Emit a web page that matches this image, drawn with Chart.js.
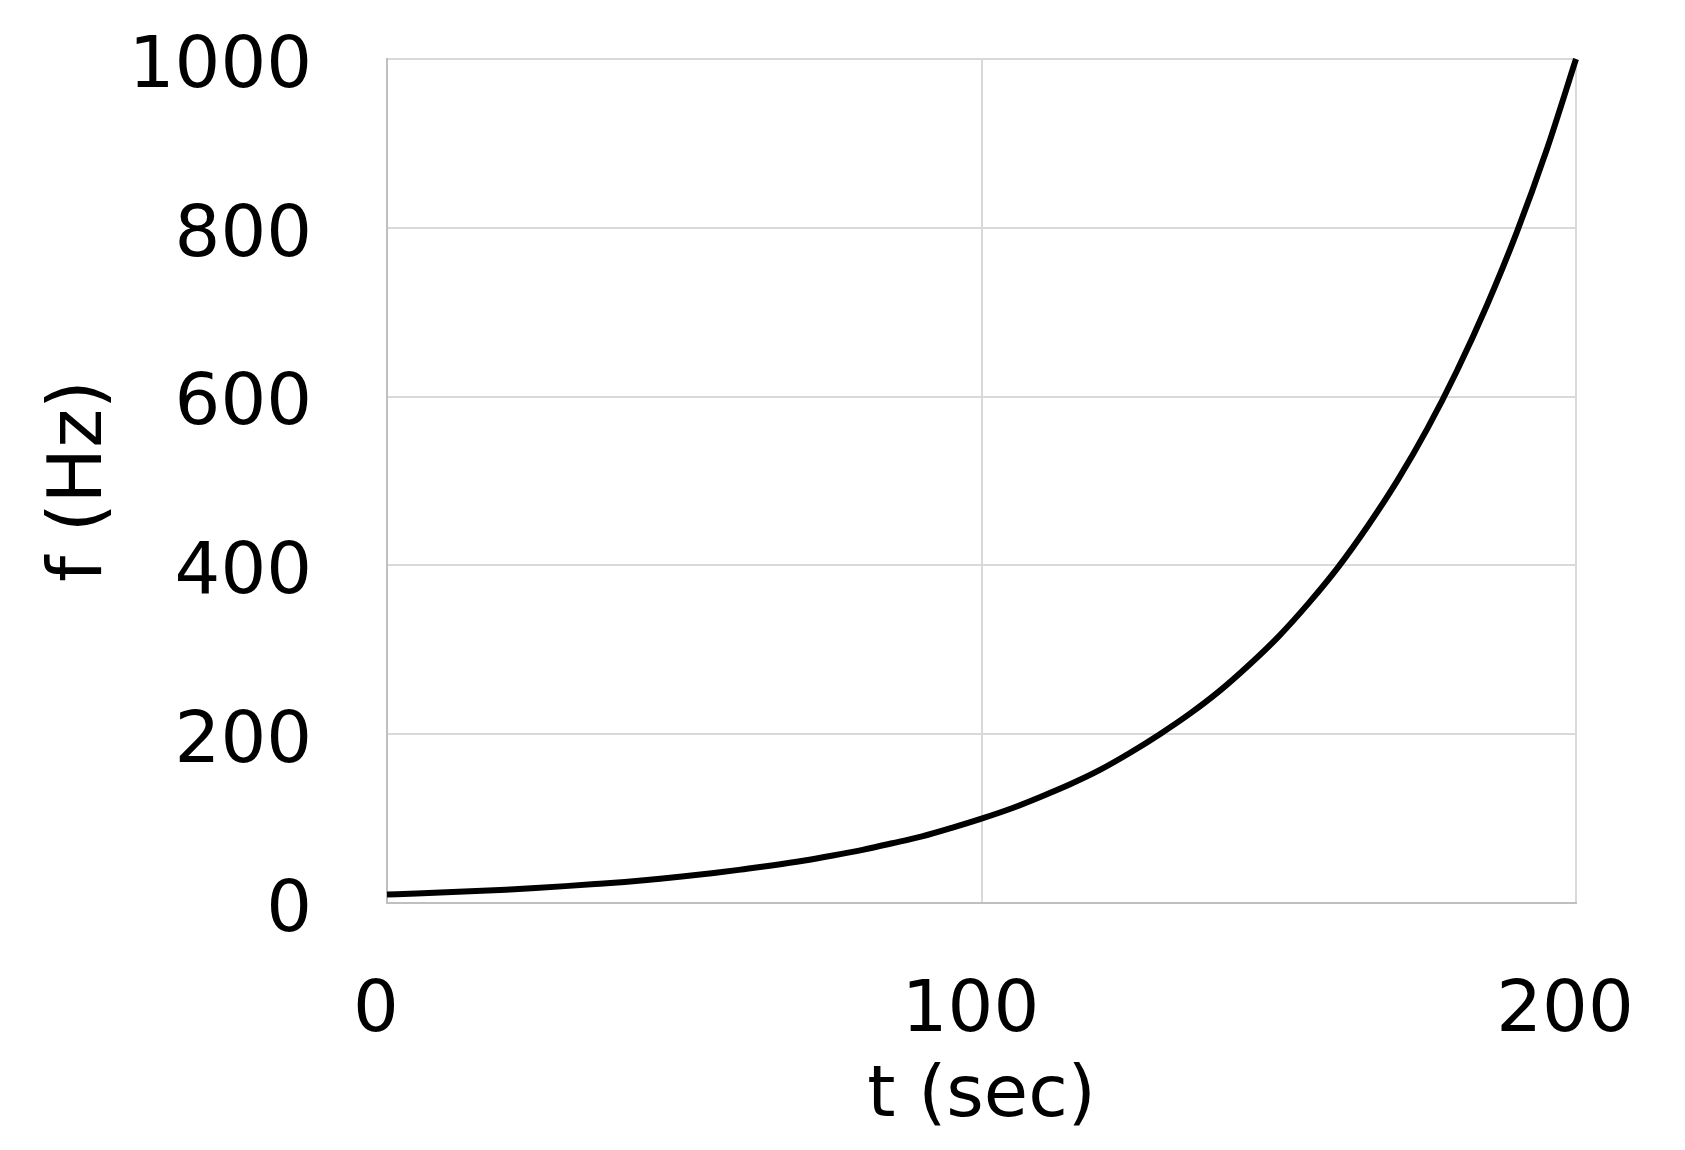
<!DOCTYPE html>
<html>
<head>
<meta charset="utf-8">
<script src="https://cdn.jsdelivr.net/npm/chart.js@4"></script>
<style>
  html, body { margin: 0; padding: 0; background: #fff; }
  #wrap { width: 1685px; height: 1150px; }
</style>
</head>
<body>
<div id="wrap"><canvas id="freqChart" width="1685" height="1150"></canvas></div>
<script>
// t (sec) and f (Hz)
const times = [0, 5, 10, 15, 20, 25, 30, 35, 40, 45, 50, 55, 60, 65, 70, 75, 80, 85, 90, 95, 100,
  105, 110, 115, 120, 125, 130, 135, 140, 145, 150, 155, 160, 165, 170, 175, 180, 185, 190, 195, 200];
const freqs = [10, 11.2, 12.6, 14.1, 15.8, 17.8, 20, 22.4, 25, 28.2, 31.6, 35.5, 40, 44.7, 50, 56.2, 63, 70.8, 79, 89.1, 100,
  112, 126, 141, 158, 178, 200, 224, 251, 282, 316, 355, 398, 447, 501, 562, 631, 708, 794, 891, 1000];
const xTicks = [0, 100, 200];
const yTicks = [0, 200, 400, 600, 800, 1000];

const points = times.map((t, i) => ({ x: t, y: freqs[i] }));
const font = { family: "DejaVu Sans", size: 72 };
const yTitleFont = { family: "DejaVu Sans", size: 74 };

new Chart(document.getElementById("freqChart"), {
  type: "line",
  data: {
    datasets: [
      {
        data: points,
        borderColor: "#000",
        borderWidth: 6,
        pointRadius: 0,
        cubicInterpolationMode: "monotone",
        clip: false,
      },
    ],
  },
  options: {
    responsive: false,
    animation: false,
    layout: { padding: { top: 59, right: 109, left: 0, bottom: 0 } },
    plugins: { legend: { display: false }, tooltip: { enabled: false } },
    scales: {
      x: {
        type: "linear",
        min: 0,
        max: 200,
        afterBuildTicks: (s) => { s.ticks = xTicks.map((v) => ({ value: v })); },
        afterFit: (s) => {
          s.height = 247;
          s.paddingLeft = 0;
          s.paddingRight = 0;
        },
        ticks: { color: "#000", font: font, padding: 66, labelOffset: -11, maxRotation: 0, callback: (v) => String(v) },
        grid: { color: "#d9d9d9", lineWidth: 2, drawTicks: false },
        border: { color: "#bfbfbf", width: 2 },
        title: { display: true, text: "t (sec)", color: "#000", font: font, padding: { top: 0, bottom: 10 } },
      },
      y: {
        min: 0,
        max: 1000,
        afterBuildTicks: (s) => { s.ticks = yTicks.map((v) => ({ value: v })); },
        afterFit: (s) => {
          s.width = 387;
          s.paddingTop = 0;
          s.paddingBottom = 0;
        },
        ticks: { color: "#000", font: font, padding: 75, labelOffset: 9, callback: (v) => String(v) },
        grid: { color: "#d9d9d9", lineWidth: 2, drawTicks: false },
        border: { color: "#bfbfbf", width: 2 },
        title: { display: true, text: "f (Hz)", color: "#000", font: yTitleFont, padding: { top: 37, bottom: 0 } },
      },
    },
  },
});
</script>
</body>
</html>
